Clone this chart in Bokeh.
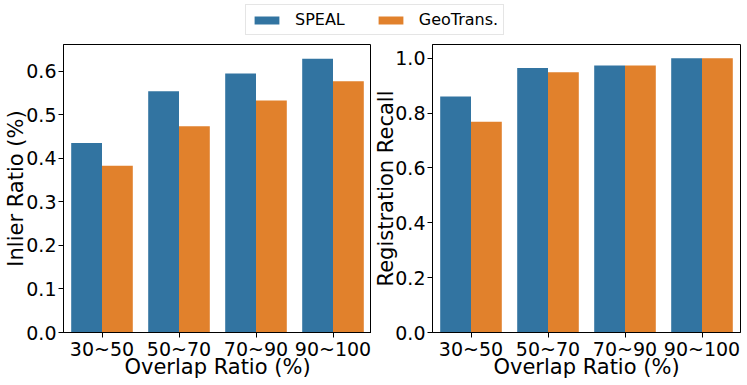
from bokeh.plotting import figure
from bokeh.models import (FactorRange, Range1d, FixedTicker, Legend, LegendItem,
                          ColumnDataSource, NumeralTickFormatter)
from bokeh.transform import dodge
from bokeh.layouts import column, row
from bokeh.embed import file_html
from bokeh.resources import INLINE

categories = ["30~50", "50~70", "70~90", "90~100"]
series_names = ["SPEAL", "GeoTrans."]
inlier_speal = [0.435, 0.554, 0.595, 0.629]
inlier_geo = [0.383, 0.474, 0.533, 0.577]
recall_speal = [0.860, 0.964, 0.973, 1.000]
recall_geo = [0.768, 0.949, 0.973, 1.000]
inlier_ticks = [0.0, 0.1, 0.2, 0.3, 0.4, 0.5, 0.6]
recall_ticks = [0.0, 0.2, 0.4, 0.6, 0.8, 1.0]

BLUE = "#3274a1"
ORANGE = "#e1812c"
FONT = "DejaVu Sans"


def panel(speal, geo, ymax, ticks, ylabel, bl, br, ystand):
    p = figure(x_range=FactorRange(*categories, range_padding=0, factor_padding=0),
               y_range=Range1d(0, ymax), frame_width=308, frame_height=288,
               output_backend="svg", toolbar_location=None,
               min_border_left=bl, min_border_right=br,
               min_border_top=0, min_border_bottom=53)
    src = ColumnDataSource(dict(cat=categories, speal=speal, geo=geo))
    p.vbar(x=dodge("cat", -0.2, range=p.x_range), top="speal", width=0.4,
           source=src, fill_color=BLUE, line_color=None)
    p.vbar(x=dodge("cat", 0.2, range=p.x_range), top="geo", width=0.4,
           source=src, fill_color=ORANGE, line_color=None)
    p.xgrid.visible = False
    p.ygrid.visible = False
    p.outline_line_color = "black"
    p.outline_line_alpha = 1.0
    p.outline_line_width = 1
    p.yaxis.ticker = FixedTicker(ticks=ticks)
    p.yaxis.formatter = NumeralTickFormatter(format="0.0")
    p.yaxis.axis_label = ylabel
    p.xaxis.axis_label = "Overlap Ratio (%)"
    for ax in (p.xaxis[0], p.yaxis[0]):
        ax.axis_line_color = "black"
        ax.major_tick_line_color = "black"
        ax.major_tick_out = 5
        ax.major_tick_in = 0
        ax.minor_tick_line_color = None
        ax.major_label_text_font = FONT
        ax.major_label_text_font_size = "19px"
        ax.major_label_text_color = "black"
        ax.major_label_standoff = 2
        ax.axis_label_text_font = FONT
        ax.axis_label_text_font_size = "21px"
        ax.axis_label_text_font_style = "normal"
        ax.axis_label_text_color = "black"
    p.xaxis[0].major_label_standoff = 0
    p.xaxis[0].axis_label_standoff = -8
    p.yaxis[0].axis_label_standoff = ystand
    p.background_fill_color = "white"
    p.border_fill_color = "white"
    return p


p1 = panel(inlier_speal, inlier_geo, 0.6615, inlier_ticks, "Inlier Ratio (%)", 63, 0, -5)
p2 = panel(recall_speal, recall_geo, 1.05, recall_ticks, "Registration Recall", 56, 6, -6)

pl = figure(width=747, height=44, output_backend="svg", toolbar_location=None,
            min_border=0, x_range=Range1d(0, 1), y_range=Range1d(0, 1))
pl.axis.visible = False
pl.grid.visible = False
pl.outline_line_color = None
pl.border_fill_color = "white"
pl.background_fill_color = "white"
r1 = pl.vbar(x=[5], top=[1], width=0.4, fill_color=BLUE, line_color=None)
r2 = pl.vbar(x=[5], top=[1], width=0.4, fill_color=ORANGE, line_color=None)
leg = Legend(items=[LegendItem(label=series_names[0], renderers=[r1]),
                    LegendItem(label=series_names[1], renderers=[r2])],
             orientation="horizontal", location=(245, 9),
             label_text_font=FONT, label_text_font_size="16px", label_text_color="black",
             label_text_line_height=1.0,
             glyph_width=31, glyph_height=10, label_standoff=13, spacing=30,
             label_height=18, padding=5, margin=0, border_line_color="#cccccc",
             border_line_width=1, background_fill_alpha=1)
pl.add_layout(leg, "center")

layout = column(pl, row(p1, p2))
open("out.html", "w").write(file_html(layout, INLINE))
